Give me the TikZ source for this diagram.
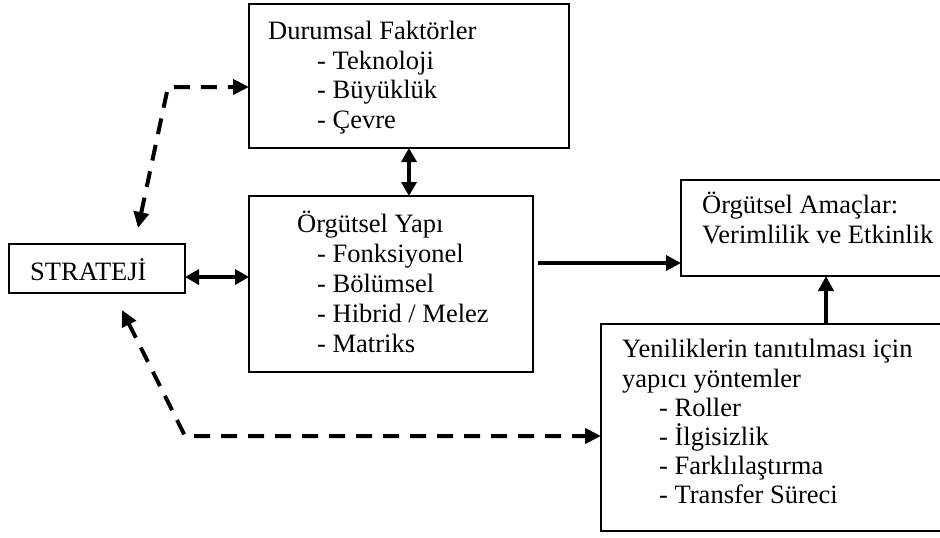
\documentclass[tikz,border=0pt]{standalone}
\usepackage{fontspec}
\setmainfont{Liberation Serif}
\usetikzlibrary{arrows.meta,calc}
\begin{document}
\begin{tikzpicture}[x=1pt,y=-1pt,
  box/.style={draw,line width=1.6pt,rectangle,inner sep=0pt,outer sep=0pt,anchor=north west},
  txt/.style={anchor=base west,inner sep=0pt,font=\fontsize{26.5}{30}\selectfont},
  solidarrow/.style={line width=4pt,-{Triangle[length=15pt,width=15pt]}},
  dblarrow/.style={line width=4pt,{Triangle[length=14pt,width=15pt]}-{Triangle[length=14pt,width=15pt]}},
  dasharrow/.style={line width=4pt,dash pattern=on 16pt off 11pt,
    {Triangle[length=16pt,width=15pt]}-{Triangle[length=16pt,width=15pt]}}]
\fill[white] (0,0) rectangle (940,538);
\clip (0,0) rectangle (940,538);

% boxes
\node[box,minimum width=176pt,minimum height=49pt]  (strat) at (9,244) {};
\node[box,minimum width=320pt,minimum height=144pt] (durum) at (249,4) {};
\node[box,minimum width=284pt,minimum height=176pt] (yapi)  at (249,196) {};
\node[box,minimum width=269pt,minimum height=96pt]  (amac)  at (681,180) {};
\node[box,minimum width=349pt,minimum height=207pt] (yen)   at (601,324) {};

% texts
\node[txt] (tstrat) at (30,280) {STRATEJİ};

\node[txt] (td0) at (268,39.5) {Durumsal Faktörler};
\node[txt] (td1) at (317,69)   {- Teknoloji};
\node[txt] (td2) at (317,98.5) {- Büyüklük};
\node[txt] (td3) at (317,128)  {- Çevre};

\node[txt] (ty0) at (297,232) {Örgütsel Yapı};
\node[txt] (ty1) at (317,262) {- Fonksiyonel};
\node[txt] (ty2) at (317,292) {- Bölümsel};
\node[txt] (ty3) at (317,322) {- Hibrid / Melez};
\node[txt] (ty4) at (317,352) {- Matriks};

\node[txt] (ta0) at (702,213) {Örgütsel Amaçlar:};
\node[txt] (ta1) at (702,243) {Verimlilik ve Etkinlik};

\node[txt] (tn0) at (622,357)   {Yeniliklerin tanıtılması için};
\node[txt] (tn1) at (622,387)   {yapıcı yöntemler};
\node[txt] (tn2) at (659,416)   {- Roller};
\node[txt] (tn3) at (659,445.5) {- İlgisizlik};
\node[txt] (tn4) at (659,474.5) {- Farklılaştırma};
\node[txt] (tn5) at (659,503.5) {- Transfer Süreci};

% solid connectors
\coordinate (p1) at ($(strat.north east)+(0,33)$);
\draw[dblarrow] (p1) -- (p1 -| yapi.west);
\draw[dblarrow] (durum.south) -- (durum.south |- yapi.north);
\coordinate (p2) at ($(yapi.north east)+(5,67)$);
\draw[solidarrow] (p2) -- (p2 -| amac.west);
\coordinate (p3) at ($(yen.north west)+(225,0)$);
\draw[solidarrow] (p3) -- (p3 |- amac.south);

% dashed connectors
\coordinate (s1) at (138,228);
\coordinate (c1) at (168,87);
\coordinate (s2) at (122,310);
\coordinate (c2) at (185,436);
\draw[dasharrow] (s1) -- (c1) -- (c1 -| durum.west);
\draw[dasharrow] (s2) -- (c2) -- (c2 -| yen.west);
\end{tikzpicture}
\end{document}
